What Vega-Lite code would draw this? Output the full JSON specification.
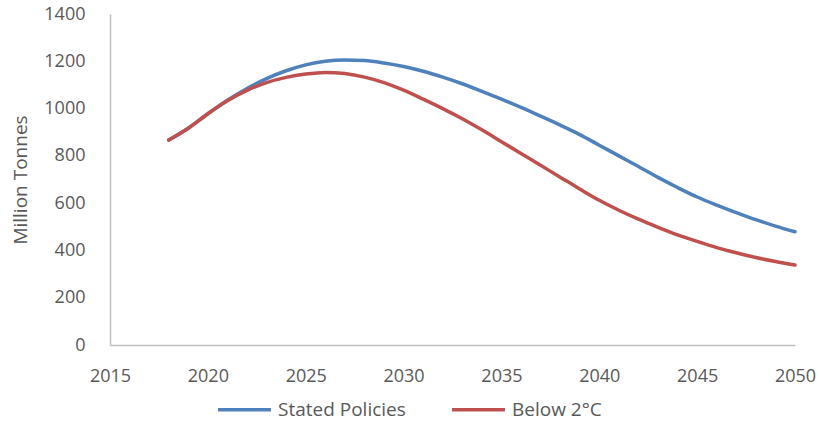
{
  "$schema": "https://vega.github.io/schema/vega-lite/v6.json",
  "width": 685,
  "height": 331,
  "autosize": {"type": "none"},
  "padding": {"left": 110, "top": 14, "right": 22, "bottom": 78},
  "background": "white",
  "config": {
    "view": {"stroke": null},
    "font": "Open Sans"
  },
  "data": {
    "values": [
      {"year": 2018, "series": "Stated Policies", "value": 867},
      {"year": 2019, "series": "Stated Policies", "value": 917},
      {"year": 2020, "series": "Stated Policies", "value": 978},
      {"year": 2021, "series": "Stated Policies", "value": 1035},
      {"year": 2022, "series": "Stated Policies", "value": 1085},
      {"year": 2023, "series": "Stated Policies", "value": 1127},
      {"year": 2024, "series": "Stated Policies", "value": 1160},
      {"year": 2025, "series": "Stated Policies", "value": 1185},
      {"year": 2026, "series": "Stated Policies", "value": 1200},
      {"year": 2027, "series": "Stated Policies", "value": 1205},
      {"year": 2028, "series": "Stated Policies", "value": 1203},
      {"year": 2029, "series": "Stated Policies", "value": 1193},
      {"year": 2030, "series": "Stated Policies", "value": 1178},
      {"year": 2031, "series": "Stated Policies", "value": 1158},
      {"year": 2032, "series": "Stated Policies", "value": 1133},
      {"year": 2033, "series": "Stated Policies", "value": 1105},
      {"year": 2034, "series": "Stated Policies", "value": 1073},
      {"year": 2035, "series": "Stated Policies", "value": 1040},
      {"year": 2036, "series": "Stated Policies", "value": 1005},
      {"year": 2037, "series": "Stated Policies", "value": 968},
      {"year": 2038, "series": "Stated Policies", "value": 930},
      {"year": 2039, "series": "Stated Policies", "value": 890},
      {"year": 2040, "series": "Stated Policies", "value": 845},
      {"year": 2041, "series": "Stated Policies", "value": 800},
      {"year": 2042, "series": "Stated Policies", "value": 755},
      {"year": 2043, "series": "Stated Policies", "value": 709},
      {"year": 2044, "series": "Stated Policies", "value": 666},
      {"year": 2045, "series": "Stated Policies", "value": 626},
      {"year": 2046, "series": "Stated Policies", "value": 592},
      {"year": 2047, "series": "Stated Policies", "value": 560},
      {"year": 2048, "series": "Stated Policies", "value": 530},
      {"year": 2049, "series": "Stated Policies", "value": 503},
      {"year": 2050, "series": "Stated Policies", "value": 479},
      {"year": 2018, "series": "Below 2°C", "value": 867},
      {"year": 2019, "series": "Below 2°C", "value": 917},
      {"year": 2020, "series": "Below 2°C", "value": 978},
      {"year": 2021, "series": "Below 2°C", "value": 1033},
      {"year": 2022, "series": "Below 2°C", "value": 1077},
      {"year": 2023, "series": "Below 2°C", "value": 1110},
      {"year": 2024, "series": "Below 2°C", "value": 1132},
      {"year": 2025, "series": "Below 2°C", "value": 1146},
      {"year": 2026, "series": "Below 2°C", "value": 1153},
      {"year": 2027, "series": "Below 2°C", "value": 1148},
      {"year": 2028, "series": "Below 2°C", "value": 1133},
      {"year": 2029, "series": "Below 2°C", "value": 1110},
      {"year": 2030, "series": "Below 2°C", "value": 1078},
      {"year": 2031, "series": "Below 2°C", "value": 1040},
      {"year": 2032, "series": "Below 2°C", "value": 1000},
      {"year": 2033, "series": "Below 2°C", "value": 957},
      {"year": 2034, "series": "Below 2°C", "value": 910},
      {"year": 2035, "series": "Below 2°C", "value": 860},
      {"year": 2036, "series": "Below 2°C", "value": 810},
      {"year": 2037, "series": "Below 2°C", "value": 760},
      {"year": 2038, "series": "Below 2°C", "value": 710},
      {"year": 2039, "series": "Below 2°C", "value": 660},
      {"year": 2040, "series": "Below 2°C", "value": 612},
      {"year": 2041, "series": "Below 2°C", "value": 570},
      {"year": 2042, "series": "Below 2°C", "value": 532},
      {"year": 2043, "series": "Below 2°C", "value": 498},
      {"year": 2044, "series": "Below 2°C", "value": 466},
      {"year": 2045, "series": "Below 2°C", "value": 438},
      {"year": 2046, "series": "Below 2°C", "value": 412},
      {"year": 2047, "series": "Below 2°C", "value": 390},
      {"year": 2048, "series": "Below 2°C", "value": 370},
      {"year": 2049, "series": "Below 2°C", "value": 353},
      {"year": 2050, "series": "Below 2°C", "value": 338}
    ]
  },
  "mark": {"type": "line", "interpolate": "monotone", "strokeWidth": 3.5, "strokeCap": "round"},
  "encoding": {
    "x": {
      "field": "year",
      "type": "quantitative",
      "scale": {"domain": [2015, 2050], "nice": false, "zero": false},
      "axis": {
        "title": null,
        "values": [2015, 2020, 2025, 2030, 2035, 2040, 2045, 2050],
        "format": "d",
        "grid": false,
        "ticks": false,
        "domainColor": "#BFBFBF",
        "domainWidth": 1.5,
        "labelColor": "#595959",
        "labelFontSize": 18,
        "labelPadding": 22,
        "labelFlush": false
      }
    },
    "y": {
      "field": "value",
      "type": "quantitative",
      "scale": {"domain": [0, 1400], "nice": false},
      "axis": {
        "title": "Million Tonnes",
        "titleColor": "#595959",
        "titleFontSize": 19,
        "titleFontWeight": "normal",
        "titlePadding": 13,
        "values": [0, 200, 400, 600, 800, 1000, 1200, 1400],
        "format": "d",
        "grid": false,
        "ticks": false,
        "domainColor": "#BFBFBF",
        "domainWidth": 1.5,
        "labelColor": "#595959",
        "labelFontSize": 18,
        "labelPadding": 25
      }
    },
    "color": {
      "field": "series",
      "type": "nominal",
      "sort": ["Stated Policies", "Below 2°C"],
      "scale": {"domain": ["Stated Policies", "Below 2°C"], "range": ["#4F81BD", "#C0504D"]},
      "legend": {
        "title": null,
        "orient": "none",
        "direction": "horizontal",
        "legendX": 106,
        "legendY": 367,
        "symbolType": "stroke",
        "symbolSize": 2800,
        "symbolStrokeWidth": 3.5,
        "labelFontSize": 19,
        "labelColor": "#595959",
        "labelOffset": 5,
        "columnPadding": 39
      }
    }
  }
}
